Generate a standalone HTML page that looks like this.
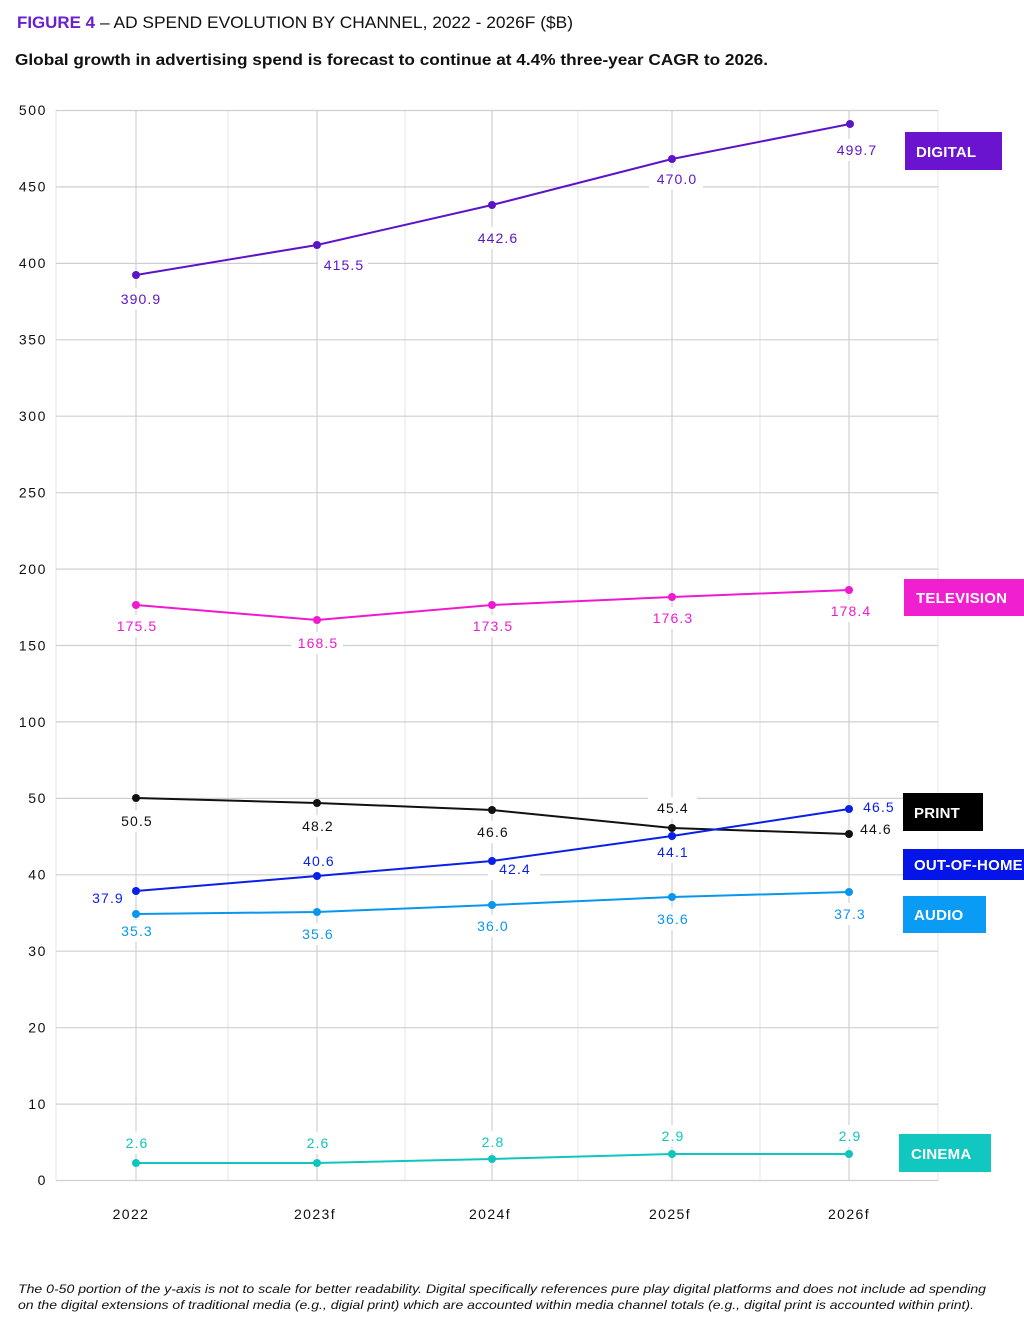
<!DOCTYPE html>
<html>
<head>
<meta charset="utf-8">
<style>
  html, body { margin:0; padding:0; background:#fff; }
  svg { display:block; }
  text { font-family: "Liberation Sans", "DejaVu Sans", sans-serif; }
  .ytick { font-size:14px; fill:#111; letter-spacing:1.6px; text-anchor:end; }
  .xtick { font-size:14px; fill:#111; letter-spacing:1.4px; text-anchor:middle; }
  .dl { font-size:14px; letter-spacing:1.1px; text-anchor:middle; }
  .leg { font-size:15px; font-weight:bold; fill:#fff; letter-spacing:0.2px; }
</style>
</head>
<body>
<svg width="1024" height="1324" viewBox="0 0 1024 1324" xmlns="http://www.w3.org/2000/svg">
  <rect x="0" y="0" width="1024" height="1324" fill="#fff"/>

  <!-- Titles -->
  <text x="17" y="28" font-size="17" font-weight="bold" fill="#6a1fd0" textLength="78" lengthAdjust="spacingAndGlyphs">FIGURE 4</text>
  <text x="100" y="28" font-size="17" fill="#111" textLength="473" lengthAdjust="spacingAndGlyphs">– AD SPEND EVOLUTION BY CHANNEL, 2022 - 2026F ($B)</text>
  <text x="15" y="65" font-size="16" font-weight="bold" fill="#111" textLength="753" lengthAdjust="spacingAndGlyphs">Global growth in advertising spend is forecast to continue at 4.4% three-year CAGR to 2026.</text>

  <!-- Minor vertical grid -->
  <g stroke="#e6e6e6" stroke-width="1">
    <line x1="56" y1="110.5" x2="56" y2="1180.5"/>
    <line x1="228" y1="110.5" x2="228" y2="1180.5"/>
    <line x1="405" y1="110.5" x2="405" y2="1180.5"/>
    <line x1="578" y1="110.5" x2="578" y2="1180.5"/>
    <line x1="760" y1="110.5" x2="760" y2="1180.5"/>
    <line x1="938" y1="110.5" x2="938" y2="1180.5"/>
  </g>
  <!-- Major vertical grid -->
  <g stroke="#d0d0d0" stroke-width="1.2">
    <line x1="136" y1="110.5" x2="136" y2="1180.5"/>
    <line x1="317" y1="110.5" x2="317" y2="1180.5"/>
    <line x1="492" y1="110.5" x2="492" y2="1180.5"/>
    <line x1="672" y1="110.5" x2="672" y2="1180.5"/>
    <line x1="849" y1="110.5" x2="849" y2="1180.5"/>
  </g>
  <!-- Horizontal grid -->
  <g stroke="#cfcfcf" stroke-width="1.2">
    <line x1="56" y1="110.5" x2="938" y2="110.5"/>
    <line x1="56" y1="186.9" x2="938" y2="186.9"/>
    <line x1="56" y1="263.4" x2="938" y2="263.4"/>
    <line x1="56" y1="339.8" x2="938" y2="339.8"/>
    <line x1="56" y1="416.2" x2="938" y2="416.2"/>
    <line x1="56" y1="492.7" x2="938" y2="492.7"/>
    <line x1="56" y1="569.1" x2="938" y2="569.1"/>
    <line x1="56" y1="645.5" x2="938" y2="645.5"/>
    <line x1="56" y1="721.9" x2="938" y2="721.9"/>
    <line x1="56" y1="798.4" x2="938" y2="798.4"/>
    <line x1="56" y1="874.8" x2="938" y2="874.8"/>
    <line x1="56" y1="951.2" x2="938" y2="951.2"/>
    <line x1="56" y1="1027.7" x2="938" y2="1027.7"/>
    <line x1="56" y1="1104.1" x2="938" y2="1104.1"/>
    <line x1="56" y1="1180.5" x2="938" y2="1180.5"/>
  </g>

  <!-- Y tick labels -->
  <g class="ytick">
    <text x="47" y="115">500</text>
    <text x="47" y="191.5">450</text>
    <text x="47" y="268">400</text>
    <text x="47" y="344.5">350</text>
    <text x="47" y="421">300</text>
    <text x="47" y="497.5">250</text>
    <text x="47" y="574">200</text>
    <text x="47" y="650.5">150</text>
    <text x="47" y="727">100</text>
    <text x="47" y="803">50</text>
    <text x="47" y="879.5">40</text>
    <text x="47" y="956">30</text>
    <text x="47" y="1032.5">20</text>
    <text x="47" y="1109">10</text>
    <text x="47" y="1185">0</text>
  </g>

  <!-- X tick labels -->
  <g class="xtick">
    <text x="131" y="1219">2022</text>
    <text x="315" y="1219">2023f</text>
    <text x="490" y="1219">2024f</text>
    <text x="670" y="1219">2025f</text>
    <text x="849" y="1219">2026f</text>
  </g>

  <!-- Label white backgrounds -->
  <g fill="#fff">
    <rect x="115" y="288" width="50" height="22"/>
    <rect x="318" y="254" width="50" height="22"/>
    <rect x="472" y="227" width="50" height="22"/>
    <rect x="649" y="168" width="54" height="22"/>
    <rect x="831" y="139" width="50" height="22"/>

    <rect x="111" y="615" width="50" height="22"/>
    <rect x="291" y="632" width="52" height="22"/>
    <rect x="467" y="615" width="50" height="22"/>
    <rect x="647" y="607" width="50" height="22"/>
    <rect x="825" y="600" width="50" height="22"/>

    <rect x="116" y="810" width="40" height="22"/>
    <rect x="297" y="815" width="40" height="22"/>
    <rect x="472" y="821" width="40" height="22"/>
    <rect x="648" y="797" width="49" height="22"/>

    <rect x="298" y="850" width="40" height="22"/>
    <rect x="488" y="858" width="52" height="22"/>
    <rect x="652" y="841" width="40" height="22"/>

    <rect x="116" y="920" width="40" height="22"/>
    <rect x="297" y="923" width="40" height="22"/>
    <rect x="472" y="915" width="40" height="22"/>
    <rect x="652" y="908" width="40" height="22"/>
    <rect x="829" y="903" width="40" height="22"/>

    <rect x="121" y="1132" width="30" height="22"/>
    <rect x="302" y="1132" width="30" height="22"/>
    <rect x="477" y="1131" width="30" height="22"/>
    <rect x="657" y="1125" width="30" height="22"/>
    <rect x="834" y="1125" width="30" height="22"/>
  </g>

  <!-- Series -->
  <g fill="none" stroke-width="2" stroke-linejoin="round">
    <polyline stroke="#5c14c9" points="136,275 317,245 492,205 672,159 850,124"/>
    <polyline stroke="#ee1ad0" points="136,605 317,620 492,605 672,597 849,590"/>
    <polyline stroke="#0a96ee" points="136,914 317,912 492,905 672,897 849,892"/>
    <polyline stroke="#111" points="136,798 317,803 492,810 672,828 849,834"/>
    <polyline stroke="#0a1fe8" points="136,891 317,876 492,861 672,836 849,809"/>
    <polyline stroke="#12c4c0" points="136,1163 317,1163 492,1159 672,1154 849,1154"/>
  </g>
  <g fill="#5c14c9">
    <circle cx="136" cy="275" r="4"/><circle cx="317" cy="245" r="4"/><circle cx="492" cy="205" r="4"/><circle cx="672" cy="159" r="4"/><circle cx="850" cy="124" r="4"/>
  </g>
  <g fill="#ee1ad0">
    <circle cx="136" cy="605" r="4"/><circle cx="317" cy="620" r="4"/><circle cx="492" cy="605" r="4"/><circle cx="672" cy="597" r="4"/><circle cx="849" cy="590" r="4"/>
  </g>
  <g fill="#0a96ee">
    <circle cx="136" cy="914" r="4"/><circle cx="317" cy="912" r="4"/><circle cx="492" cy="905" r="4"/><circle cx="672" cy="897" r="4"/><circle cx="849" cy="892" r="4"/>
  </g>
  <g fill="#111">
    <circle cx="136" cy="798" r="4"/><circle cx="317" cy="803" r="4"/><circle cx="492" cy="810" r="4"/><circle cx="672" cy="828" r="4"/><circle cx="849" cy="834" r="4"/>
  </g>
  <g fill="#0a1fe8">
    <circle cx="136" cy="891" r="4"/><circle cx="317" cy="876" r="4"/><circle cx="492" cy="861" r="4"/><circle cx="672" cy="836" r="4"/><circle cx="849" cy="809" r="4"/>
  </g>
  <g fill="#12c4c0">
    <circle cx="136" cy="1163" r="4"/><circle cx="317" cy="1163" r="4"/><circle cx="492" cy="1159" r="4"/><circle cx="672" cy="1154" r="4"/><circle cx="849" cy="1154" r="4"/>
  </g>

  <!-- Data labels -->
  <g class="dl" fill="#5c14c9">
    <text x="141" y="304">390.9</text>
    <text x="344" y="270">415.5</text>
    <text x="498" y="243">442.6</text>
    <text x="677" y="184">470.0</text>
    <text x="857" y="155">499.7</text>
  </g>
  <g class="dl" fill="#ee1ad0">
    <text x="137" y="631">175.5</text>
    <text x="318" y="648">168.5</text>
    <text x="493" y="631">173.5</text>
    <text x="673" y="623">176.3</text>
    <text x="851" y="616">178.4</text>
  </g>
  <g class="dl" fill="#111">
    <text x="137" y="826">50.5</text>
    <text x="318" y="831">48.2</text>
    <text x="493" y="837">46.6</text>
    <text x="673" y="813">45.4</text>
    <text x="876" y="834">44.6</text>
  </g>
  <g class="dl" fill="#0a1fe8">
    <text x="108" y="903">37.9</text>
    <text x="319" y="866">40.6</text>
    <text x="515" y="874">42.4</text>
    <text x="673" y="857">44.1</text>
    <text x="879" y="812">46.5</text>
  </g>
  <g class="dl" fill="#0a96ee">
    <text x="137" y="936">35.3</text>
    <text x="318" y="939">35.6</text>
    <text x="493" y="931">36.0</text>
    <text x="673" y="924">36.6</text>
    <text x="850" y="919">37.3</text>
  </g>
  <g class="dl" fill="#12c4c0">
    <text x="137" y="1148">2.6</text>
    <text x="318" y="1148">2.6</text>
    <text x="493" y="1147">2.8</text>
    <text x="673" y="1141">2.9</text>
    <text x="850" y="1141">2.9</text>
  </g>

  <!-- Legend boxes -->
  <rect x="905" y="132" width="97" height="38" fill="#6a14d0"/>
  <text class="leg" x="916" y="157">DIGITAL</text>

  <rect x="904" y="579" width="120" height="37" fill="#f020d0"/>
  <text class="leg" x="916" y="603">TELEVISION</text>

  <rect x="903" y="793" width="80" height="38" fill="#000"/>
  <text class="leg" x="914" y="818">PRINT</text>

  <rect x="903" y="849" width="121" height="31" fill="#0514e8"/>
  <text class="leg" x="914" y="870">OUT-OF-HOME</text>

  <rect x="903" y="896" width="83" height="37" fill="#0a9cf5"/>
  <text class="leg" x="914" y="920">AUDIO</text>

  <rect x="899" y="1134" width="92" height="38" fill="#10c8c0"/>
  <text class="leg" x="911" y="1159">CINEMA</text>

  <!-- Footnote -->
  <text x="18" y="1293" font-size="12" font-style="italic" fill="#111" textLength="968" lengthAdjust="spacingAndGlyphs">The 0-50 portion of the y-axis is not to scale for better readability. Digital specifically references pure play digital platforms and does not include ad spending</text>
  <text x="18" y="1309" font-size="12" font-style="italic" fill="#111" textLength="956" lengthAdjust="spacingAndGlyphs">on the digital extensions of traditional media (e.g., digial print) which are accounted within media channel totals (e.g., digital print is accounted within print).</text>
</svg>
</body>
</html>
